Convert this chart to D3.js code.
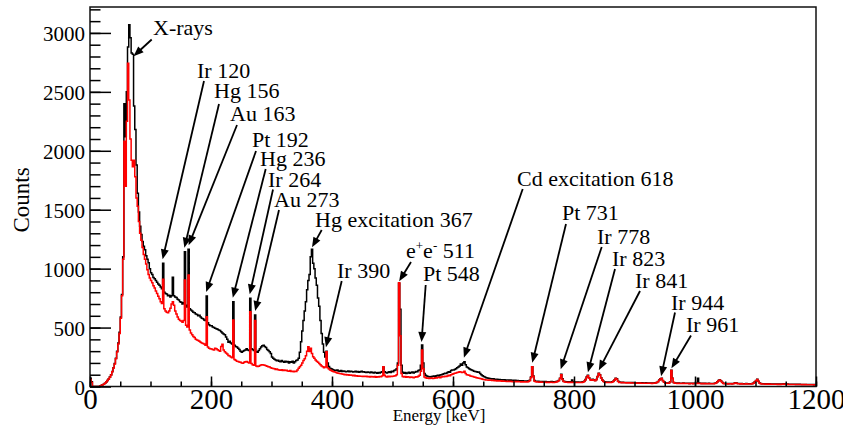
<!DOCTYPE html>
<html>
<head>
<meta charset="utf-8">
<script src="https://cdn.jsdelivr.net/npm/d3@7"></script>
<style>
  body { margin: 0; background: #fff; }
  svg { display: block; }
  text { font-family: "Liberation Serif", "Times New Roman", serif; fill: #000; }
</style>
</head>
<body>
<svg id="chart" width="843" height="429"></svg>
<script>
// Histogram bin width in keV; both spectra share the same binning from 0 to 1200 keV.
const binWidth = 2;

// Black spectrum, counts per 2 keV bin, one row per 100 keV.
const countsBlack = [
  // 0-98
  70,40,0,0,0,0,0,0,4,8, 14,20,28,38,50,64,80,100,128,160,
  195,240,300,370,460,590,780,1100,2400,2120, 2500,2880,3070,2960,2830,2820,2380,2180,1880,1640,
  1480,1360,1290,1230,1190,1160,1110,1080,1050,1000,
  // 100-198
  965,950,925,915,900,885,870,860,845,830, 1045,800,790,785,770,775,760,770,926,770,
  760,755,740,735,720,715,700,710,1144,690, 675,1164,660,650,640,630,625,615,610,600,
  605,590,580,575,565,560,768,540,525,515,
  // 200-298
  515,505,500,495,490,485,480,475,465,455, 445,440,420,400,375,385,370,360,719,350,
  340,335,325,315,300,290,300,305,310,320, 310,305,748,320,315,305,607,295,290,305,
  320,335,345,350,340,330,315,305,295,280,
  // 300-398
  250,240,232,225,218,222,215,210,220,212, 205,215,208,212,200,210,205,215,200,210,
  220,225,240,290,380,470,560,640,720,820, 900,950,1100,1164,1045,1000,920,860,750,680,
  560,450,360,290,250,300,200,170,155,150,
  // 400-498
  145,140,138,135,140,132,130,135,128,132, 130,125,128,132,125,130,128,122,126,130,
  124,128,120,125,130,122,126,120,118,124, 120,116,122,118,115,120,116,112,118,114,
  120,125,165,125,118,115,120,125,118,130,
  // 500-598
  125,135,140,150,200,876,655,180,120,112, 118,110,115,120,112,118,124,115,120,128,
  125,135,140,180,352,200,110,95,90,85, 82,80,85,88,90,85,92,95,90,98,
  100,105,108,112,110,118,125,120,135,140,
  // 600-698
  140,145,150,160,165,175,190,180,200,211, 185,165,160,150,145,140,135,130,128,125,
  120,122,110,100,92,85,80,75,72,70, 68,66,64,65,62,60,62,58,60,57,
  58,55,57,54,56,55,52,55,53,52,
  // 700-798
  50,52,48,50,47,49,46,48,45,47, 44,46,48,52,80,168,90,50,45,43,
  44,42,43,41,42,40,42,40,41,39, 40,42,40,38,40,42,45,50,70,103,
  65,45,42,40,41,39,40,38,55,40,
  // 800-898
  38,39,37,38,36,37,38,40,45,60, 80,95,75,60,55,62,58,50,60,85,
  112,100,75,55,45,40,38,37,38,36, 37,40,45,55,70,65,45,38,36,35,
  36,34,35,33,34,33,34,32,33,32,
  // 900-998
  32,31,32,30,31,30,31,29,30,31, 29,30,29,30,28,29,30,32,35,42,
  55,65,70,50,38,32,30,29,30,40, 137,70,35,30,29,28,29,28,27,28,
  29,27,28,27,28,26,27,28,26,27,
  // 1000-1098
  27,28,70,30,27,26,27,26,27,25, 26,27,25,26,25,26,28,32,40,50,
  58,48,36,28,26,25,26,24,25,26, 24,25,28,32,30,26,25,24,25,24,
  23,24,25,23,24,23,24,26,30,40,
  // 1100-1198
  50,61,45,30,25,24,23,24,22,23, 22,23,22,21,22,21,22,21,20,21,
  20,21,22,24,22,20,21,20,19,20, 19,20,19,18,19,18,19,18,17,18,
  17,18,17,16,17,16,17,16,15,16
];

// Red spectrum, same binning.
const countsRed = [
  // 0-98
  60,35,0,0,0,0,0,0,4,8, 14,20,28,38,50,63,78,98,125,156,
  190,235,292,360,450,580,770,1080,2080,1700, 2250,2742,2430,2100,1920,1865,1920,1780,1600,1530,
  1400,1300,1240,1180,1120,1080,1040,990,950,920,
  // 100-198
  900,880,855,835,810,790,765,745,720,705, 910,660,640,630,625,640,665,700,719,690,
  640,615,590,570,560,555,545,560,904,520, 505,946,480,455,440,425,415,400,395,390,
  385,375,370,365,360,350,592,335,325,320,
  // 200-298
  318,315,310,325,320,312,305,300,340,359, 310,295,285,275,262,258,250,245,564,230,
  222,215,212,208,205,200,198,205,210,212, 205,200,635,195,185,180,560,175,170,172,
  178,182,185,183,180,176,172,168,165,160,
  // 300-398
  155,152,150,145,148,142,140,138,142,136, 140,135,138,132,130,135,128,130,126,130,
  128,140,155,168,180,200,220,235,260,300, 338,296,324,280,253,240,225,215,205,196,
  185,175,168,160,165,295,160,148,140,135,
  // 400-498
  130,126,122,118,115,112,110,108,106,104, 100,102,98,100,96,98,95,92,95,90,
  92,88,90,86,88,85,88,84,86,82, 85,80,84,82,80,84,78,82,80,84,
  82,90,168,95,84,80,86,82,88,84,
  // 500-598
  86,90,92,100,180,881,430,110,85,80, 84,78,82,80,76,80,78,74,78,82,
  80,88,95,130,310,150,80,74,70,72, 68,70,72,68,70,74,72,76,78,74,
  80,84,82,86,84,90,96,92,100,105,
  // 600-698
  108,112,115,118,120,126,122,118,120,130, 110,100,98,95,90,88,84,80,78,75,
  72,70,68,66,62,60,58,56,55,54, 55,52,50,52,48,50,47,48,46,48,
  45,46,44,45,43,44,42,44,42,41,
  // 700-798
  41,43,40,42,40,41,39,40,38,40, 38,39,42,48,75,168,85,45,40,38,
  39,37,38,36,37,36,37,35,36,35, 36,37,35,34,36,38,42,48,68,100,
  60,42,38,36,37,35,36,34,36,35,
  // 800-898
  34,35,33,34,33,34,35,37,42,56, 76,92,72,57,52,58,55,48,57,82,
  110,98,72,52,42,37,35,34,35,33, 34,37,42,52,68,62,42,35,33,32,
  33,31,32,30,31,30,31,29,30,29,
  // 900-998
  29,28,29,28,29,28,28,27,28,28, 27,28,27,28,26,27,28,30,33,40,
  53,63,68,48,36,30,28,27,28,38, 135,68,33,28,27,26,27,26,25,26,
  27,25,26,25,26,24,25,26,24,25,
  // 1000-1098
  25,26,27,26,25,24,25,24,25,23, 24,25,23,24,23,24,26,30,38,48,
  56,46,34,26,24,23,24,22,23,24, 22,23,26,30,28,24,23,22,23,22,
  21,22,23,21,22,21,22,24,28,38,
  // 1100-1198
  48,59,43,28,23,22,21,22,20,21, 20,21,20,19,20,19,20,19,18,19,
  18,19,20,22,20,18,19,18,17,18, 17,18,17,16,17,16,17,16,15,16,
  15,16,15,14,15,14,15,14,13,14
];

// Axis ticks
const xTickLabels = [0, 200, 400, 600, 800, 1000, 1200];
const xMinorTicks = d3.range(0, 1201, 50);
const yTickLabels = [0, 500, 1000, 1500, 2000, 2500, 3000];
const yMinorTicks = d3.range(0, 3201, 100);

// Identified lines: label text and line energy in keV
const peakLabels = [
  { parts: [["X-rays"]], energy: 72 },
  { parts: [["Ir 120"]], energy: 120 },
  { parts: [["Hg 156"]], energy: 156 },
  { parts: [["Au 163"]], energy: 163 },
  { parts: [["Pt 192"]], energy: 192 },
  { parts: [["Hg 236"]], energy: 236 },
  { parts: [["Ir 264"]], energy: 264 },
  { parts: [["Au 273"]], energy: 273 },
  { parts: [["Hg excitation 367"]], energy: 367 },
  { parts: [["Ir 390"]], energy: 390 },
  { parts: [["e"], ["+", "sup"], ["e"], ["-", "sup"], [" 511"]], energy: 511 },
  { parts: [["Pt 548"]], energy: 548 },
  { parts: [["Cd excitation 618"]], energy: 618 },
  { parts: [["Pt 731"]], energy: 731 },
  { parts: [["Ir 778"]], energy: 778 },
  { parts: [["Ir 823"]], energy: 823 },
  { parts: [["Ir 841"]], energy: 841 },
  { parts: [["Ir 944"]], energy: 944 },
  { parts: [["Ir 961"]], energy: 961 }
];

// Placement of each label (text origin and arrow tail, in px) and arrow-tip gap above the peak
const labelLayout = [
  { tx: 153, ty: 35,  sx: 151.7, sy: 39.5,  gap: -2 },
  { tx: 197, ty: 78,  sx: 204,   sy: 81,    gap: 4 },
  { tx: 214, ty: 98,  sx: 219,   sy: 104,   gap: 4 },
  { tx: 230, ty: 121, sx: 237,   sy: 125,   gap: 4 },
  { tx: 252, ty: 147, sx: 256,   sy: 151,   gap: 4 },
  { tx: 260, ty: 166, sx: 265.7, sy: 169,   gap: 4 },
  { tx: 268, ty: 187, sx: 273,   sy: 189.5, gap: 4 },
  { tx: 274, ty: 207, sx: 279,   sy: 210,   gap: 4 },
  { tx: 315, ty: 227, sx: 321.7, sy: 230,   gap: 2 },
  { tx: 337, ty: 278, sx: 341.7, sy: 281,   gap: 4 },
  { tx: 406, ty: 258, sx: 411,   sy: 262,   gap: 2 },
  { tx: 423, ty: 281, sx: 425.7, sy: 285,   gap: 3 },
  { tx: 517, ty: 186, sx: 522.7, sy: 189,   gap: 4 },
  { tx: 562, ty: 220, sx: 566,   sy: 224,   gap: 4 },
  { tx: 597, ty: 244, sx: 601.7, sy: 247,   gap: 5 },
  { tx: 612, ty: 266, sx: 615,   sy: 269,   gap: 3 },
  { tx: 635, ty: 288, sx: 640,   sy: 291,   gap: 3 },
  { tx: 671, ty: 310, sx: 675,   sy: 312.5, gap: 2 },
  { tx: 686, ty: 332, sx: 691,   sy: 335.5, gap: 2 }
];

const svg = d3.select("#chart");
const plot = { left: 90, right: 816, top: 7, bottom: 386.5 };

const x = d3.scaleLinear().domain([0, 1200]).range([plot.left, plot.right]);
const y = d3.scaleLinear().domain([0, 3220]).range([plot.bottom, plot.top]);

svg.append("defs").append("clipPath").attr("id", "plot-clip")
  .append("rect")
  .attr("x", plot.left).attr("y", plot.top)
  .attr("width", plot.right - plot.left).attr("height", plot.bottom - plot.top);

// Step outlines of the two histograms
const binStarts = countsBlack.map((_, i) => i * binWidth);
function stepPoints(counts) {
  const pts = counts.map((c, i) => [binStarts[i], c]);
  pts.push([binStarts[counts.length - 1] + binWidth, counts[counts.length - 1]]);
  return pts;
}
const stepLine = d3.line()
  .x(d => x(d[0]))
  .y(d => y(d[1]))
  .curve(d3.curveStepAfter);

const hist = svg.append("g").attr("clip-path", "url(#plot-clip)");
hist.append("path")
  .attr("d", stepLine(stepPoints(countsBlack)))
  .attr("fill", "none").attr("stroke", "#000").attr("stroke-width", 1.5)
  .attr("stroke-linejoin", "miter");
hist.append("path")
  .attr("d", stepLine(stepPoints(countsRed)))
  .attr("fill", "none").attr("stroke", "#ff0000").attr("stroke-width", 1.5)
  .attr("stroke-linejoin", "miter");

// Frame
svg.append("rect")
  .attr("x", plot.left).attr("y", plot.top)
  .attr("width", plot.right - plot.left).attr("height", plot.bottom - plot.top)
  .attr("fill", "none").attr("stroke", "#111").attr("stroke-width", 1.5);

// Y axis: inward ticks, labels on the left
const yMinor = svg.append("g").attr("transform", `translate(${plot.left},0)`)
  .call(d3.axisLeft(y).tickValues(yMinorTicks).tickSize(-10.5).tickFormat(""));
const yMajor = svg.append("g").attr("transform", `translate(${plot.left},0)`)
  .call(d3.axisLeft(y).tickValues(yTickLabels).tickSize(-21).tickPadding(5).tickFormat(d3.format("d")));
[yMinor, yMajor].forEach(g => {
  g.select(".domain").remove();
  g.selectAll("line").attr("stroke", "#000").attr("stroke-width", 1.5);
});
yMajor.selectAll("text")
  .attr("dy", "0.38em")
  .style("font-size", "21px")
  .style("font-family", '"Liberation Serif", serif');

// X axis: inward ticks, labels below
const xMinor = svg.append("g").attr("transform", `translate(0,${plot.bottom})`)
  .call(d3.axisBottom(x).tickValues(xMinorTicks).tickSize(-5).tickFormat(""));
const xMajor = svg.append("g").attr("transform", `translate(0,${plot.bottom})`)
  .call(d3.axisBottom(x).tickValues(xTickLabels).tickSize(-10).tickPadding(2).tickFormat(d3.format("d")));
[xMinor, xMajor].forEach(g => {
  g.select(".domain").remove();
  g.selectAll("line").attr("stroke", "#000").attr("stroke-width", 1.5);
});
xMajor.selectAll("text")
  .style("font-size", "29px")
  .style("font-family", '"Liberation Serif", serif');

// Axis titles
svg.append("text")
  .attr("transform", "translate(29,200) rotate(-90)")
  .attr("text-anchor", "middle")
  .style("font-size", "23px")
  .text("Counts");
svg.append("text")
  .attr("x", 439).attr("y", 421)
  .attr("text-anchor", "middle")
  .style("font-size", "17px")
  .text("Energy [keV]");

// Peak annotations with arrows pointing at the black spectrum
function localMax(counts, energy) {
  let m = 0;
  counts.forEach((c, i) => {
    if (binStarts[i] >= energy - 2 && binStarts[i] <= energy + 2) m = Math.max(m, c);
  });
  return m;
}

const notes = svg.append("g");
peakLabels.forEach((p, i) => {
  const L = labelLayout[i];
  const t = notes.append("text")
    .attr("x", L.tx).attr("y", L.ty)
    .style("font-size", "22px");
  p.parts.forEach(([s, kind]) => {
    if (kind === "sup") {
      t.append("tspan").attr("dy", -8).style("font-size", "13px").text(s);
    } else {
      const ts = t.append("tspan").text(s);
      if (t.node().childNodes.length > 1 && t.node().childNodes[t.node().childNodes.length - 2].textContent.length === 1) {
        // return to the main baseline after a superscript
        ts.attr("dy", 8);
      }
    }
  });

  const tipX = x(p.energy);
  const tipY = y(localMax(countsBlack, p.energy)) - L.gap;
  const dx = tipX - L.sx, dy = tipY - L.sy;
  const len = Math.hypot(dx, dy);
  const ux = dx / len, uy = dy / len;
  const head = 10, half = 4;
  const bx = tipX - ux * head, by = tipY - uy * head;

  notes.append("line")
    .attr("x1", L.sx).attr("y1", L.sy)
    .attr("x2", bx + ux * 2).attr("y2", by + uy * 2)
    .attr("stroke", "#000").attr("stroke-width", 1.8);
  notes.append("path")
    .attr("d", `M${tipX},${tipY}L${bx - uy * half},${by + ux * half}L${bx + uy * half},${by - ux * half}Z`)
    .attr("fill", "#000");
});
</script>
</body>
</html>
